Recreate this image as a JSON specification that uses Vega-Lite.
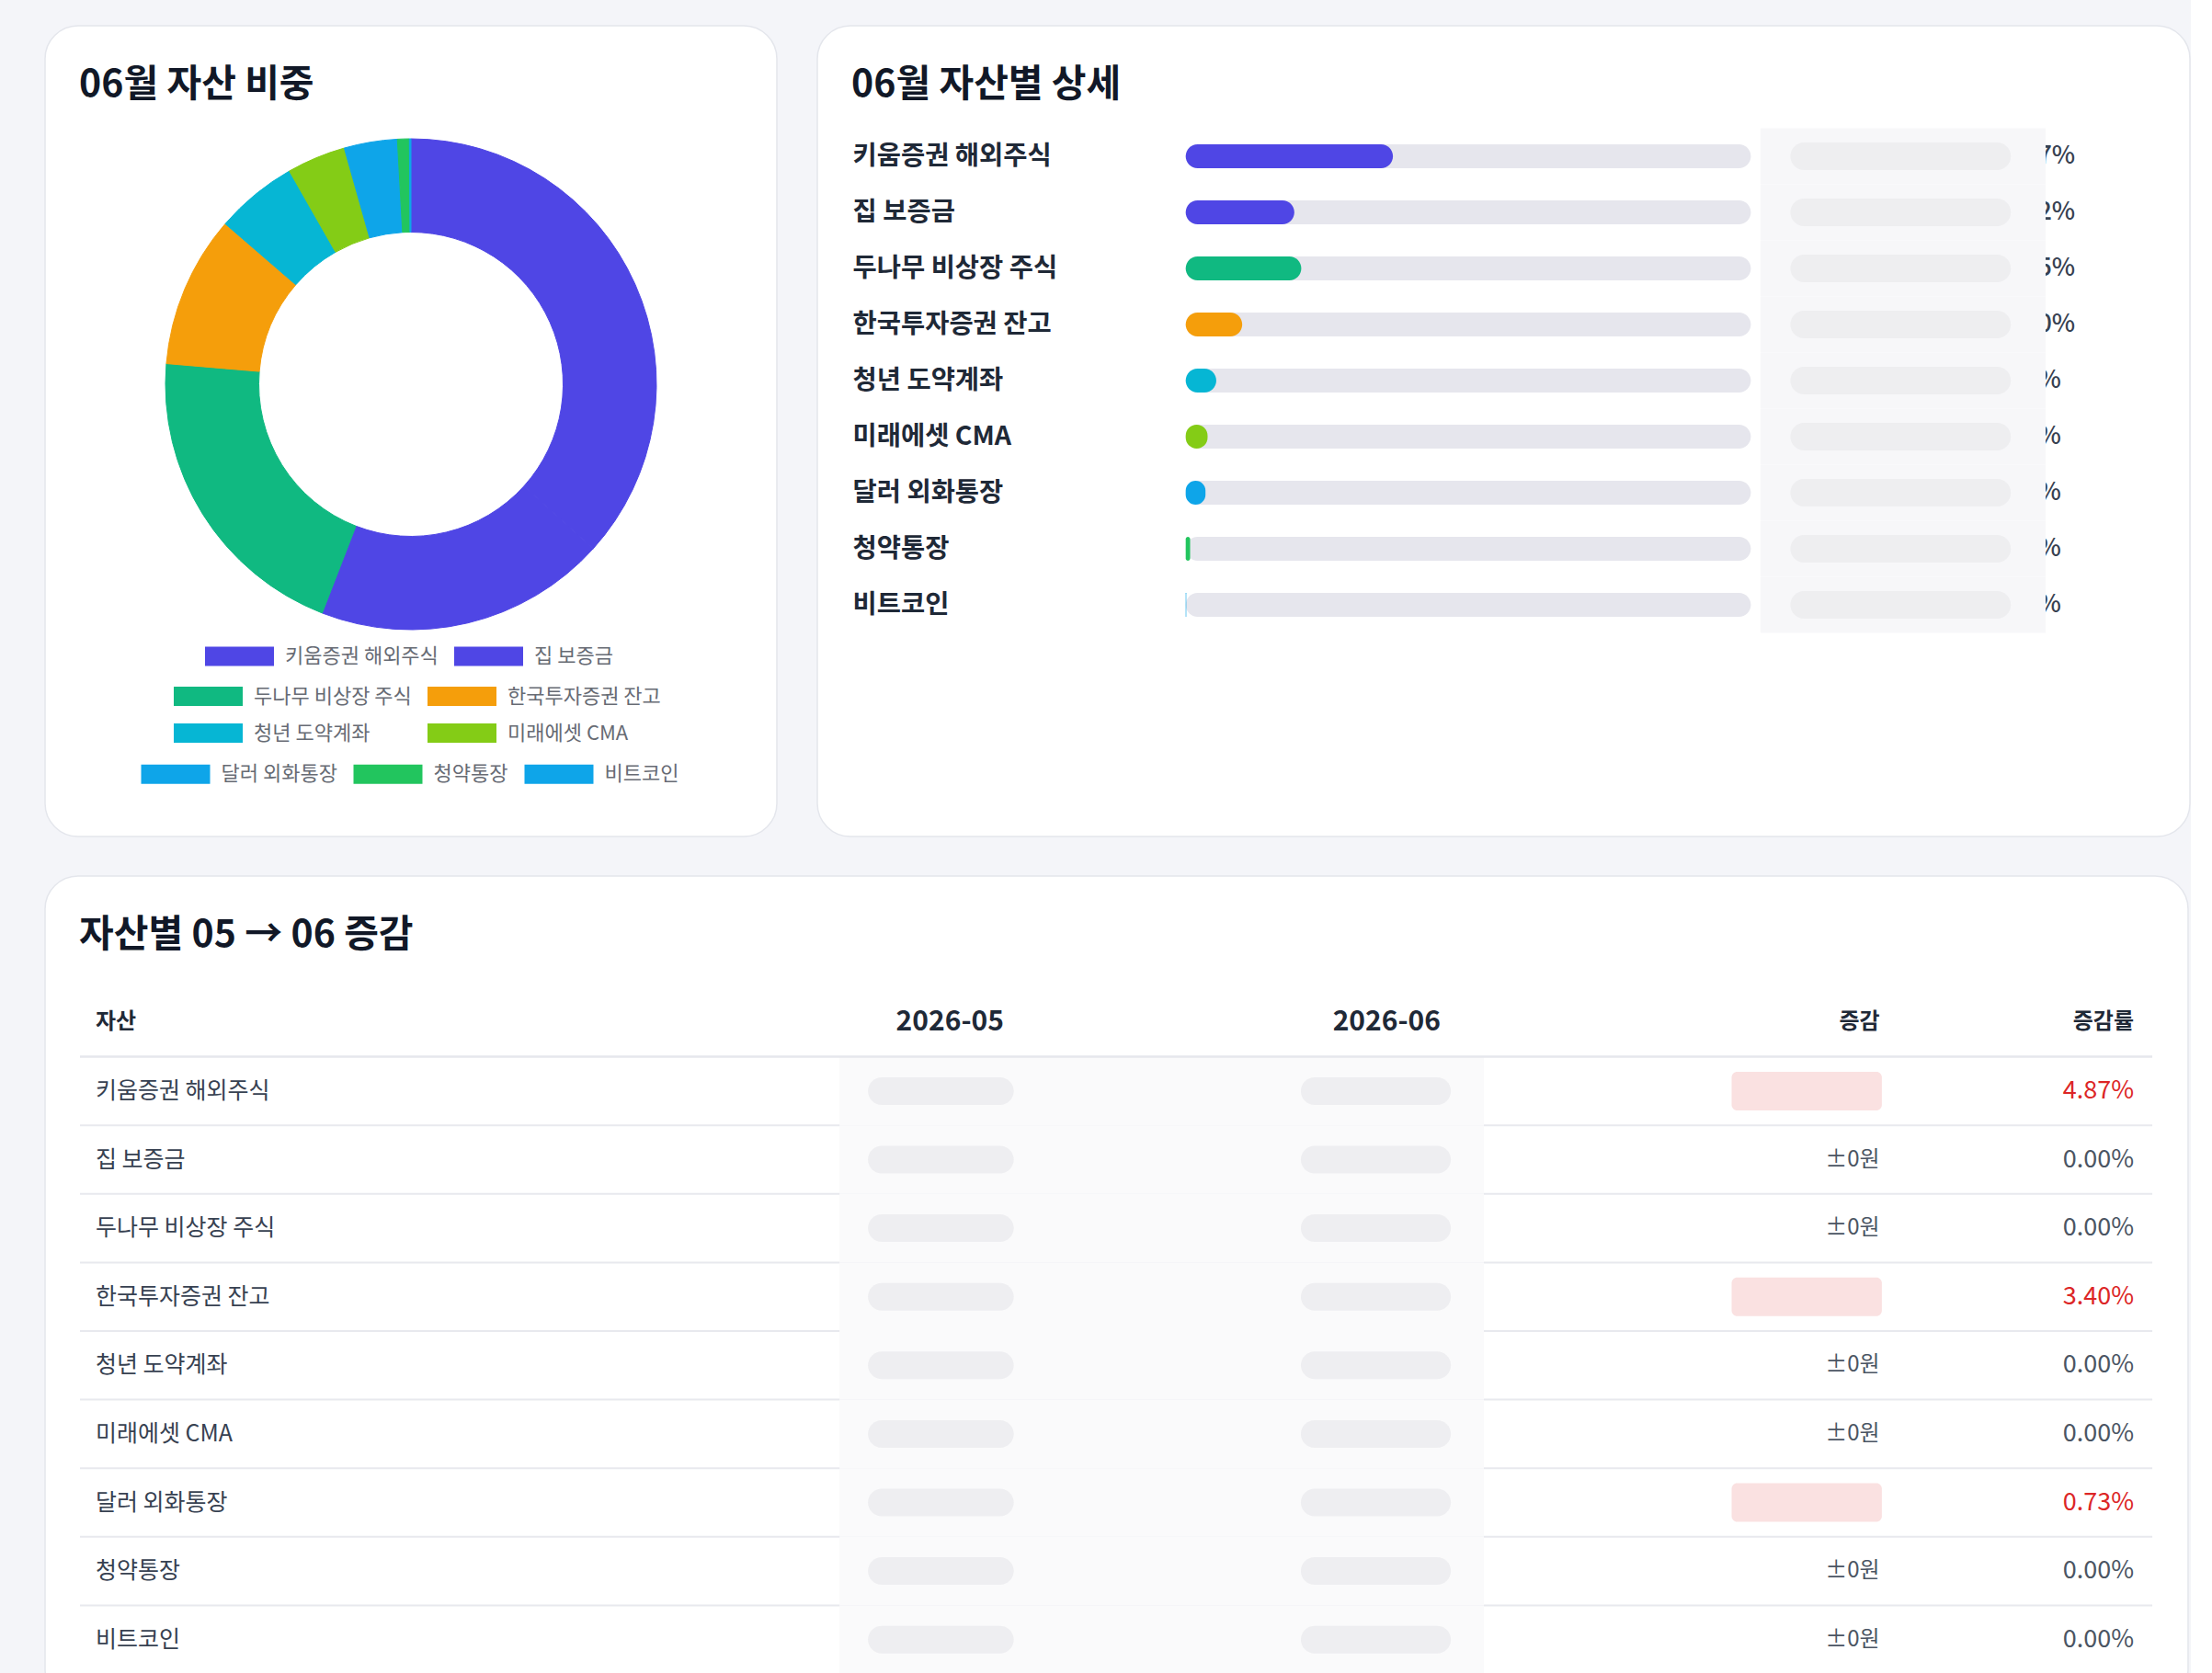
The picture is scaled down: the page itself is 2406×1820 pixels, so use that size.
{
  "$schema": "https://vega.github.io/schema/vega-lite/v6.json",
  "background": "#f4f5f9",
  "padding": {"left": 48, "top": 27, "right": 0, "bottom": 0},
  "config": {
    "font": "Noto Sans CJK KR",
    "title": {"anchor": "start", "fontSize": 41, "fontWeight": "bold", "color": "#111827", "dx": 37, "offset": -86, "font": "Noto Sans CJK KR"},
    "view": {"fill": "white", "stroke": "#e4e6ec", "strokeWidth": 1.5, "cornerRadius": 36},
    "legend": {"padding": 0, "labelFontSize": 22, "labelFont": "Noto Sans CJK KR", "labelColor": "#676b74", "labelLimit": 400}
  },
  "datasets": {
    "assets": [
      {"rank": 1, "asset": "키움증권 해외주식", "share": 0.3667, "rate": 0.0487},
      {"rank": 2, "asset": "집 보증금", "share": 0.1922, "rate": 0, "change": "±0원"},
      {"rank": 3, "asset": "두나무 비상장 주식", "share": 0.2045, "rate": 0, "change": "±0원"},
      {"rank": 4, "asset": "한국투자증권 잔고", "share": 0.1000, "rate": 0.0340},
      {"rank": 5, "asset": "청년 도약계좌", "share": 0.0541, "rate": 0, "change": "±0원"},
      {"rank": 6, "asset": "미래에셋 CMA", "share": 0.0387, "rate": 0, "change": "±0원"},
      {"rank": 7, "asset": "달러 외화통장", "share": 0.0350, "rate": 0.0073},
      {"rank": 8, "asset": "청약통장", "share": 0.0078, "rate": 0, "change": "±0원"},
      {"rank": 9, "asset": "비트코인", "share": 0.0010, "rate": 0, "change": "±0원"}
    ]
  },
  "spacing": 41,
  "vconcat": [
    {
      "spacing": 42,
      "hconcat": [
        {
          "name": "donut",
          "title": "06월 자산 비중",
          "width": 796,
          "height": 882,
          "view": {"fill": "white", "stroke": "#e4e6ec", "strokeWidth": 1.5, "cornerRadius": 36},
          "data": {"name": "assets"},
          "mark": {"type": "arc", "radius": 267, "radius2": 165.5, "yOffset": -51, "strokeWidth": 1},
          "encoding": {
            "theta": {"field": "share", "type": "quantitative", "stack": true},
            "order": {"field": "rank", "type": "quantitative"},
            "color": {
              "field": "asset", "type": "nominal",
              "scale": {"domain": ["키움증권 해외주식", "집 보증금", "두나무 비상장 주식", "한국투자증권 잔고", "청년 도약계좌", "미래에셋 CMA", "달러 외화통장", "청약통장", "비트코인"],
                        "range": ["#4f46e5", "#4f46e5", "#10b981", "#f59e0b", "#06b6d4", "#84cc16", "#0ea5e9", "#22c55e", "#0ea5e9"]},
              "legend": {"orient": "none", "title": null, "legendX": 140, "legendY": 710.5, "direction": "horizontal", "columns": 2,
                         "values": ["두나무 비상장 주식", "한국투자증권 잔고", "청년 도약계좌", "미래에셋 CMA"],
                         "symbolType": "M-1,-0.55H2.947V0.55H-1Z", "symbolSize": 1444, "symbolStrokeWidth": 0, "labelOffset": 49, "columnPadding": 17, "rowPadding": 10}
            },
            "opacity": {
              "field": "asset", "type": "nominal",
              "scale": {"type": "ordinal", "domain": ["집 보증금", "두나무 비상장 주식", "한국투자증권 잔고", "청년 도약계좌", "미래에셋 CMA", "달러 외화통장", "청약통장", "비트코인", "키움증권 해외주식"],
                        "range": [1, 1, 1, 1, 1, 1, 1, 1, 1]},
              "legend": {"orient": "none", "title": null, "legendX": 174, "legendY": 667, "direction": "horizontal",
                         "values": ["키움증권 해외주식", "집 보증금"],
                         "symbolType": "M-1,-0.55H2.947V0.55H-1Z", "symbolSize": 1444, "symbolStrokeWidth": 0, "symbolFillColor": "#4f46e5", "symbolOpacity": 1, "labelOffset": 49, "columnPadding": 17}
            },
            "stroke": {
              "field": "asset", "type": "nominal",
              "scale": {"domain": ["비트코인", "청약통장", "달러 외화통장", "미래에셋 CMA", "청년 도약계좌", "한국투자증권 잔고", "두나무 비상장 주식", "집 보증금", "키움증권 해외주식"],
                        "range": ["#0ea5e9", "#22c55e", "#0ea5e9", "#84cc16", "#06b6d4", "#f59e0b", "#10b981", "#4f46e5", "#4f46e5"]},
              "legend": {"orient": "none", "title": null, "legendX": 94, "legendY": 784.5, "direction": "horizontal",
                         "values": ["달러 외화통장", "청약통장", "비트코인"],
                         "symbolType": "M-1,0H2.947", "symbolSize": 1444, "symbolStrokeWidth": 21, "symbolFillColor": "transparent", "labelOffset": 38.5, "columnPadding": -25}
            }
          }
        },
        {
          "name": "detail",
          "title": "06월 자산별 상세",
          "width": 1493,
          "height": 882,
          "data": {"name": "assets"},
          "encoding": {
            "y": {
              "field": "asset", "type": "nominal",
              "scale": {"domain": ["키움증권 해외주식", "집 보증금", "두나무 비상장 주식", "한국투자증권 잔고", "청년 도약계좌", "미래에셋 CMA", "달러 외화통장", "청약통장", "비트코인"],
                        "range": [111.5, 660.5], "paddingInner": 0, "paddingOuter": 0},
              "axis": {"orient": "left", "offset": -38, "labelAlign": "left", "labelBaseline": "middle", "labelPadding": 0, "ticks": false, "tickSize": 0, "domain": false, "grid": false, "title": null,
                       "labelFontSize": 28.5, "labelFontWeight": "bold", "labelColor": "#1f2937", "labelLimit": 500, "labelFont": "Noto Sans CJK KR"}
            }
          },
          "layer": [
            {
              "mark": {"type": "bar", "height": 26, "cornerRadius": 13, "color": "#e6e6ed"},
              "encoding": {
                "x": {"datum": 0, "type": "quantitative", "scale": {"domain": [0, 1], "range": [400.7, 1015.4], "nice": false, "zero": false}, "axis": null},
                "x2": {"datum": 1}
              }
            },
            {
              "mark": {"type": "bar", "height": 26, "cornerRadius": 13},
              "encoding": {
                "x": {"field": "share", "type": "quantitative"},
                "x2": {"datum": 0},
                "color": {"field": "asset", "type": "nominal",
                          "scale": {"domain": ["키움증권 해외주식", "집 보증금", "두나무 비상장 주식", "한국투자증권 잔고", "청년 도약계좌", "미래에셋 CMA", "달러 외화통장", "청약통장", "비트코인"],
                                    "range": ["#4f46e5", "#4f46e5", "#10b981", "#f59e0b", "#06b6d4", "#84cc16", "#0ea5e9", "#22c55e", "#0ea5e9"]},
                          "legend": null}
              }
            },
            {
              "mark": {"type": "text", "align": "left", "baseline": "middle", "fontSize": 27, "fontWeight": 500, "color": "#374151"},
              "encoding": {
                "x": {"datum": 1.4195, "type": "quantitative"},
                "text": {"field": "share", "format": ".2%"}
              }
            },
            {
              "mark": {"type": "rect", "color": "#f7f7f9"},
              "encoding": {
                "x": {"datum": 1.017, "type": "quantitative"},
                "x2": {"datum": 1.5216}
              }
            },
            {
              "mark": {"type": "bar", "height": 30, "cornerRadius": 15, "color": "#d2d2d8", "opacity": 0.25},
              "encoding": {
                "x": {"datum": 1.07, "type": "quantitative"},
                "x2": {"datum": 1.46}
              }
            }
          ]
        }
      ]
    },
    {
      "name": "table",
      "title": "자산별 05 → 06 증감",
      "width": 2331,
      "height": 900,
      "data": {"name": "assets"},
      "layer": [
        {
          "mark": {"type": "rule", "color": "#e8e9ee", "strokeWidth": 2},
          "encoding": {
            "y": {"field": "asset", "type": "nominal", "bandPosition": 1,
                  "scale": {"domain": ["자산", "키움증권 해외주식", "집 보증금", "두나무 비상장 주식", "한국투자증권 잔고", "청년 도약계좌", "미래에셋 CMA", "달러 외화통장", "청약통장", "비트코인"],
                            "range": [122, 868], "paddingInner": 0, "paddingOuter": 0},
                  "axis": null},
            "x": {"datum": 1.63, "type": "quantitative", "scale": {"domain": [0, 100], "nice": false, "zero": false}, "axis": null},
            "x2": {"datum": 98.33}
          }
        },
        {
          "mark": {"type": "rect", "color": "#fafafb"},
          "encoding": {
            "y": {"field": "asset", "type": "nominal"},
            "x": {"datum": 37.07, "type": "quantitative"},
            "x2": {"datum": 67.14}
          }
        },
        {
          "transform": [{"filter": "datum.rank == 1"}],
          "mark": {"type": "rule", "color": "#e6e7ed", "strokeWidth": 2.5},
          "encoding": {
            "y": {"field": "asset", "type": "nominal", "bandPosition": 0},
            "x": {"datum": 1.63, "type": "quantitative"},
            "x2": {"datum": 98.33}
          }
        },
        {
          "mark": {"type": "bar", "height": 30, "cornerRadius": 15, "color": "#d2d2d8", "opacity": 0.28},
          "encoding": {
            "y": {"field": "asset", "type": "nominal"},
            "x": {"datum": 38.4, "type": "quantitative"},
            "x2": {"datum": 45.2}
          }
        },
        {
          "mark": {"type": "bar", "height": 30, "cornerRadius": 15, "color": "#d2d2d8", "opacity": 0.28},
          "encoding": {
            "y": {"field": "asset", "type": "nominal"},
            "x": {"datum": 58.6, "type": "quantitative"},
            "x2": {"datum": 65.6}
          }
        },
        {
          "transform": [{"filter": "datum.rate > 0"}],
          "mark": {"type": "bar", "height": 42, "cornerRadius": 6, "color": "#f9dede", "opacity": 0.9},
          "encoding": {
            "y": {"field": "asset", "type": "nominal"},
            "x": {"datum": 78.7, "type": "quantitative"},
            "x2": {"datum": 85.71}
          }
        },
        {
          "mark": {"type": "text", "align": "left", "baseline": "middle", "fontSize": 25, "color": "#374151"},
          "encoding": {
            "y": {"field": "asset", "type": "nominal"},
            "x": {"datum": 2.36, "type": "quantitative"},
            "text": {"field": "asset"}
          }
        },
        {
          "transform": [{"filter": "isValid(datum.change)"}],
          "mark": {"type": "text", "align": "right", "baseline": "middle", "fontSize": 24, "color": "#4b5563"},
          "encoding": {
            "y": {"field": "asset", "type": "nominal"},
            "x": {"datum": 85.61, "type": "quantitative"},
            "text": {"field": "change"}
          }
        },
        {
          "mark": {"type": "text", "align": "right", "baseline": "middle", "fontSize": 27},
          "encoding": {
            "y": {"field": "asset", "type": "nominal"},
            "x": {"datum": 97.47, "type": "quantitative"},
            "text": {"field": "rate", "format": ".2%"},
            "color": {"condition": {"test": "datum.rate > 0", "value": "#dc2626"}, "value": "#4b5563"}
          }
        },
        {
          "data": {"values": [{}]},
          "mark": {"type": "text", "align": "left", "baseline": "middle", "fontSize": 24, "fontWeight": "bold", "color": "#1f2937"},
          "encoding": {"y": {"datum": "자산", "type": "nominal"}, "x": {"datum": 2.36, "type": "quantitative"}, "text": {"value": "자산"}}
        },
        {
          "data": {"values": [{}]},
          "mark": {"type": "text", "align": "right", "baseline": "middle", "fontSize": 30, "fontWeight": "bold", "color": "#1f2937"},
          "encoding": {"y": {"datum": "자산", "type": "nominal"}, "x": {"datum": 44.74, "type": "quantitative"}, "text": {"value": "2026-05"}}
        },
        {
          "data": {"values": [{}]},
          "mark": {"type": "text", "align": "right", "baseline": "middle", "fontSize": 30, "fontWeight": "bold", "color": "#1f2937"},
          "encoding": {"y": {"datum": "자산", "type": "nominal"}, "x": {"datum": 65.12, "type": "quantitative"}, "text": {"value": "2026-06"}}
        },
        {
          "data": {"values": [{}]},
          "mark": {"type": "text", "align": "right", "baseline": "middle", "fontSize": 24, "fontWeight": "bold", "color": "#1f2937"},
          "encoding": {"y": {"datum": "자산", "type": "nominal"}, "x": {"datum": 85.61, "type": "quantitative"}, "text": {"value": "증감"}}
        },
        {
          "data": {"values": [{}]},
          "mark": {"type": "text", "align": "right", "baseline": "middle", "fontSize": 24, "fontWeight": "bold", "color": "#1f2937"},
          "encoding": {"y": {"datum": "자산", "type": "nominal"}, "x": {"datum": 97.47, "type": "quantitative"}, "text": {"value": "증감률"}}
        }
      ]
    }
  ]
}
